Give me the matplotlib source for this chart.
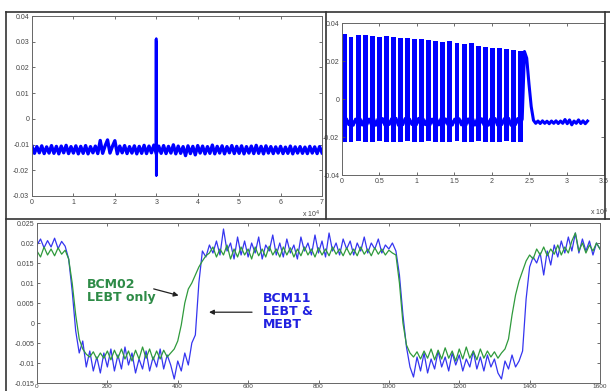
import numpy as np
import matplotlib
matplotlib.use('Agg')
import matplotlib.pyplot as plt
from matplotlib.lines import Line2D

# ---------------- data ----------------
# top-left: noise band (x in units of 1e4) and single spike at 3e4
tl_band = [
    -0.0106, -0.0134, -0.0108, -0.0132, -0.0105, -0.0135, -0.0109, -0.0133, -0.0104, -0.0134,
    -0.0107, -0.0136, -0.0106, -0.0132, -0.0103, -0.0135, -0.0108, -0.0133, -0.0105, -0.0136,
    -0.0107, -0.0134, -0.0104, -0.0136, -0.0108, -0.0132, -0.0106, -0.0135, -0.0084, -0.0134,
    -0.0105, -0.0082, -0.0133, -0.0107, -0.0085, -0.0136, -0.0106, -0.0132, -0.0104, -0.0135,
    -0.0108, -0.0133, -0.0105, -0.0136, -0.0107, -0.0134, -0.0103, -0.0135, -0.0106, -0.0132,
    -0.0102, -0.0136, -0.0106, -0.0134, -0.0104, -0.0135, -0.0107, -0.0133, -0.0101, -0.0136,
    -0.0106, -0.0134, -0.0108, -0.0143, -0.0105, -0.0135, -0.0107, -0.0140, -0.0104, -0.0133,
    -0.0106, -0.0136, -0.0108, -0.0134, -0.0102, -0.0136, -0.0107, -0.0133, -0.0105, -0.0136,
    -0.0108, -0.0132, -0.0104, -0.0135, -0.0107, -0.0134, -0.0105, -0.0136, -0.0108, -0.0133,
    -0.0106, -0.0135, -0.0103, -0.0134, -0.0107, -0.0136, -0.0105, -0.0133, -0.0108, -0.0135,
    -0.0109, -0.0133, -0.0107, -0.0135, -0.0110, -0.0134, -0.0106, -0.0136, -0.0109, -0.0133,
    -0.0108, -0.0134, -0.0110, -0.0135, -0.0107, -0.0133, -0.0109, -0.0135, -0.0108, -0.0132,
]
tl_xmax = 7.0
spike_x = [2.985, 2.99, 2.995, 3.0, 3.005, 3.01, 3.015]
spike_y = [-0.0120, 0.0310, -0.0220, 0.0313, -0.0221, 0.0300, -0.0120]

# top-right: pulse train (x in units of 1e4)
rt_centers = [0.030, 0.120, 0.215, 0.309, 0.404, 0.498, 0.592, 0.687, 0.781, 0.876,
              0.970, 1.064, 1.159, 1.253, 1.348, 1.442, 1.536, 1.631, 1.725, 1.820,
              1.914, 2.008, 2.103, 2.197, 2.292, 2.386]
rt_tops = [0.0340, 0.0328, 0.0337, 0.0337, 0.0333, 0.0328, 0.0333, 0.0328, 0.0323, 0.0323,
           0.0316, 0.0316, 0.0311, 0.0305, 0.0302, 0.0305, 0.0293, 0.0288, 0.0293, 0.0281,
           0.0275, 0.0270, 0.0270, 0.0263, 0.0258, 0.0253]
rt_bottoms = [-0.0224, -0.0226, -0.0223, -0.0227, -0.0225, -0.0222, -0.0226, -0.0224, -0.0227, -0.0223,
              -0.0225, -0.0226, -0.0222, -0.0225, -0.0227, -0.0224, -0.0223, -0.0226, -0.0225, -0.0222,
              -0.0226, -0.0224, -0.0227, -0.0223, -0.0225, -0.0224]
rt_base = [
    -0.0103, -0.0137, -0.0105, -0.0135, -0.0102, -0.0138, -0.0106, -0.0134, -0.0104, -0.0137,
    -0.0103, -0.0136, -0.0106, -0.0134, -0.0102, -0.0138, -0.0105, -0.0135, -0.0103, -0.0137,
    -0.0106, -0.0134, -0.0104, -0.0136, -0.0102, -0.0138, -0.0105, -0.0135, -0.0103, -0.0137,
    -0.0106, -0.0134, -0.0104, -0.0136, -0.0102, -0.0138, -0.0105, -0.0135, -0.0103, -0.0137,
    -0.0106, -0.0134, -0.0104, -0.0136, -0.0102, -0.0138, -0.0105, -0.0135, -0.0103, -0.0137,
    -0.0106, -0.0134, -0.0104, -0.0136, -0.0102, -0.0138, -0.0105, -0.0135, -0.0103, -0.0137,
    -0.0106, -0.0134, -0.0104, -0.0136, -0.0102, -0.0138, -0.0105, -0.0135, -0.0103, -0.0137,
    -0.0106, -0.0134, -0.0104, -0.0136, -0.0102, -0.0138, -0.0105, -0.0135, -0.0103, -0.0137,
    -0.0106, 0.0250, 0.0215, 0.0080, -0.0040, -0.0112, -0.0128, -0.0116, -0.0129, -0.0115,
    -0.0128, -0.0117, -0.0130, -0.0116, -0.0128, -0.0115, -0.0129, -0.0116, -0.0128, -0.0108,
    -0.0130, -0.0110, -0.0136, -0.0116, -0.0128, -0.0110, -0.0129, -0.0115, -0.0130, -0.0116,
]
rt_xmax = 3.28

# bottom: BCM11 (blue) and BCM02 (green), sampled every 10 units
b_step = 10
bcm11 = [
    0.0195, 0.0210, 0.0188, 0.0206, 0.0190, 0.0212, 0.0186, 0.0204, 0.0192, 0.0160,
    0.0080, -0.0020, -0.0075, -0.0045, -0.0110, -0.0070, -0.0120, -0.0085, -0.0125, -0.0075,
    -0.0110, -0.0065, -0.0120, -0.0080, -0.0115, -0.0060, -0.0105, -0.0075, -0.0125, -0.0090,
    -0.0115, -0.0070, -0.0120, -0.0085, -0.0110, -0.0065, -0.0115, -0.0080, -0.0105, -0.0140,
    -0.0095, -0.0120, -0.0075, -0.0105, -0.0050, -0.0030, 0.0100, 0.0180, 0.0165, 0.0195,
    0.0175, 0.0205, 0.0170, 0.0235, 0.0180, 0.0200, 0.0160, 0.0215, 0.0170, 0.0205,
    0.0165, 0.0200, 0.0175, 0.0215, 0.0160, 0.0195, 0.0180, 0.0220, 0.0170, 0.0200,
    0.0165, 0.0210, 0.0175, 0.0195, 0.0160, 0.0215, 0.0180, 0.0200, 0.0170, 0.0220,
    0.0175, 0.0205, 0.0165, 0.0225, 0.0180, 0.0200, 0.0170, 0.0210, 0.0185, 0.0205,
    0.0170, 0.0200, 0.0180, 0.0215, 0.0175, 0.0200, 0.0185, 0.0210, 0.0175, 0.0195,
    0.0185, 0.0200, 0.0180, 0.0120, 0.0020, -0.0060, -0.0110, -0.0135, -0.0085, -0.0120,
    -0.0075, -0.0125, -0.0090, -0.0115, -0.0070, -0.0110, -0.0085, -0.0120, -0.0075, -0.0105,
    -0.0080, -0.0120, -0.0090, -0.0110, -0.0070, -0.0115, -0.0085, -0.0120, -0.0080, -0.0110,
    -0.0090, -0.0125, -0.0140, -0.0095, -0.0115, -0.0080, -0.0110, -0.0095, -0.0070, 0.0060,
    0.0140, 0.0165, 0.0150, 0.0175, 0.0120, 0.0180, 0.0145, 0.0195, 0.0165, 0.0205,
    0.0175, 0.0215, 0.0180, 0.0225, 0.0175, 0.0210, 0.0180, 0.0205, 0.0170, 0.0200,
    0.0185,
]
bcm02 = [
    0.0180, 0.0165, 0.0190, 0.0170, 0.0185, 0.0168, 0.0188, 0.0172, 0.0182, 0.0160,
    0.0100, 0.0020, -0.0040, -0.0065, -0.0078, -0.0085, -0.0072, -0.0090, -0.0075, -0.0088,
    -0.0070, -0.0092, -0.0068, -0.0088, -0.0065, -0.0090, -0.0070, -0.0095, -0.0068, -0.0090,
    -0.0060, -0.0088, -0.0065, -0.0092, -0.0070, -0.0090, -0.0068, -0.0085, -0.0075, -0.0065,
    -0.0045, -0.0005, 0.0050, 0.0085, 0.0100, 0.0120, 0.0140, 0.0155, 0.0168, 0.0175,
    0.0190, 0.0165, 0.0185, 0.0170, 0.0195, 0.0160, 0.0185, 0.0165, 0.0190, 0.0170,
    0.0185, 0.0160, 0.0190, 0.0168, 0.0185, 0.0165, 0.0192, 0.0170, 0.0185, 0.0165,
    0.0190, 0.0170, 0.0188, 0.0165, 0.0185, 0.0168, 0.0190, 0.0170, 0.0185, 0.0165,
    0.0188, 0.0170, 0.0185, 0.0168, 0.0190, 0.0172, 0.0185, 0.0168, 0.0188, 0.0170,
    0.0185, 0.0168, 0.0190, 0.0172, 0.0185, 0.0168, 0.0188, 0.0172, 0.0185, 0.0170,
    0.0182, 0.0175, 0.0170, 0.0100, 0.0000, -0.0055, -0.0075, -0.0085, -0.0072, -0.0090,
    -0.0070, -0.0088, -0.0065, -0.0092, -0.0068, -0.0090, -0.0062, -0.0088, -0.0070, -0.0095,
    -0.0065, -0.0090, -0.0060, -0.0088, -0.0070, -0.0092, -0.0065, -0.0088, -0.0070, -0.0085,
    -0.0072, -0.0088, -0.0075, -0.0065, -0.0040, 0.0020, 0.0070, 0.0105, 0.0130, 0.0155,
    0.0170, 0.0160, 0.0185, 0.0170, 0.0190, 0.0168, 0.0185, 0.0172, 0.0195, 0.0170,
    0.0190, 0.0175, 0.0205, 0.0225, 0.0180, 0.0200, 0.0175, 0.0195, 0.0180, 0.0200,
    0.0185,
]

tl_yticks = [-0.03, -0.02, -0.01, 0, 0.01, 0.02, 0.03, 0.04]
tl_xticks = [0, 1, 2, 3, 4, 5, 6, 7]
rt_yticks = [-0.04, -0.02, 0, 0.02, 0.04]
rt_xticks = [0, 0.5, 1, 1.5, 2, 2.5, 3, 3.5]
bt_yticks = [-0.015, -0.01, -0.005, 0, 0.005, 0.01, 0.015, 0.02, 0.025]
bt_xticks = [0, 200, 400, 600, 800, 1000, 1200, 1400, 1600]

# ---------------- figure ----------------
W, H = 610, 391
plt.rcParams['font.family'] = ['Liberation Sans', 'DejaVu Sans']
fig = plt.figure(figsize=(W / 100, H / 100), dpi=100)


def box(l, t, r, b):
    # pixel box -> figure fraction rect
    return [l / W, 1 - b / H, (r - l) / W, (b - t) / H]


def style(ax, xt, yt):
    ax.set_xticks(xt)
    ax.set_yticks(yt)
    ax.set_xticklabels(['%g' % v for v in xt])
    ax.set_yticklabels(['%g' % v for v in yt])
    ax.tick_params(direction='in', length=2.5, width=0.6, color='#555555',
                   labelsize=5, labelcolor='#444444', top=True, right=True, pad=2)
    for s in ax.spines.values():
        s.set_color('#666666')
        s.set_linewidth(0.7)


ax1 = fig.add_axes(box(32, 16, 322, 196))
ax2 = fig.add_axes(box(342, 23, 604, 175))
ax3 = fig.add_axes(box(37, 223, 600, 383))

# top-left
ax1.plot(np.linspace(0, tl_xmax, len(tl_band)), tl_band, color='#0000ff', lw=2.4)
ax1.plot(spike_x, spike_y, color='#0000ff', lw=1.6)
ax1.set_xlim(0, 7)
ax1.set_ylim(-0.03, 0.04)
style(ax1, tl_xticks, tl_yticks)

# top-right
ax2.bar(rt_centers, np.array(rt_tops) - np.array(rt_bottoms), bottom=rt_bottoms,
        width=0.066, color='#0000ff', linewidth=0)
ax2.plot(np.linspace(0, rt_xmax, len(rt_base)), rt_base, color='#0000ff', lw=2.2)
ax2.set_xlim(0, 3.5)
ax2.set_ylim(-0.04, 0.04)
style(ax2, rt_xticks, rt_yticks)

# bottom
ax3.plot(np.arange(len(bcm11)) * b_step, bcm11, color='#3535f0', lw=0.9)
ax3.plot(np.arange(len(bcm02)) * b_step, bcm02, color='#2f9a3c', lw=0.9)
ax3.set_xlim(0, 1600)
ax3.set_ylim(-0.015, 0.025)
style(ax3, bt_xticks, bt_yticks)
ax3.tick_params(axis='x', pad=0.8, labelsize=4.6)

ax3.text(141, 0.0080, 'BCM02\nLEBT only', color='#2e8b47', fontsize=9,
         fontweight='bold', family='DejaVu Sans', ha='left', va='center', linespacing=1.0)
ax3.text(643, 0.0028, 'BCM11\nLEBT &\nMEBT', color='#2020e0', fontsize=9,
         fontweight='bold', family='DejaVu Sans', ha='left', va='center', linespacing=1.0)
ax3.annotate('', xy=(410, 0.0067), xytext=(324, 0.0087),
             arrowprops=dict(arrowstyle='-|>', color='#222222', lw=0.9, mutation_scale=7))
ax3.annotate('', xy=(481, 0.0027), xytext=(619, 0.0027),
             arrowprops=dict(arrowstyle='-|>', color='#222222', lw=0.9, mutation_scale=7))

# exponent labels of the top panels
fig.text(302 / W, 1 - 214 / H, 'x 10$^4$', fontsize=5, color='#444444', va='center')
fig.text(590 / W, 1 - 212 / H, 'x 10$^4$', fontsize=5, color='#444444', va='center')

# panel frames
for (x0, y0, x1, y1) in [(6, 12, 610, 12), (6, 12, 6, 391), (326, 12, 326, 219),
                         (6, 219, 610, 219), (605, 12, 605, 219)]:
    fig.add_artist(Line2D([x0 / W, x1 / W], [1 - y0 / H, 1 - y1 / H],
                          transform=fig.transFigure, color='#333333', lw=1.2))

fig.savefig('out.png', dpi=100)
